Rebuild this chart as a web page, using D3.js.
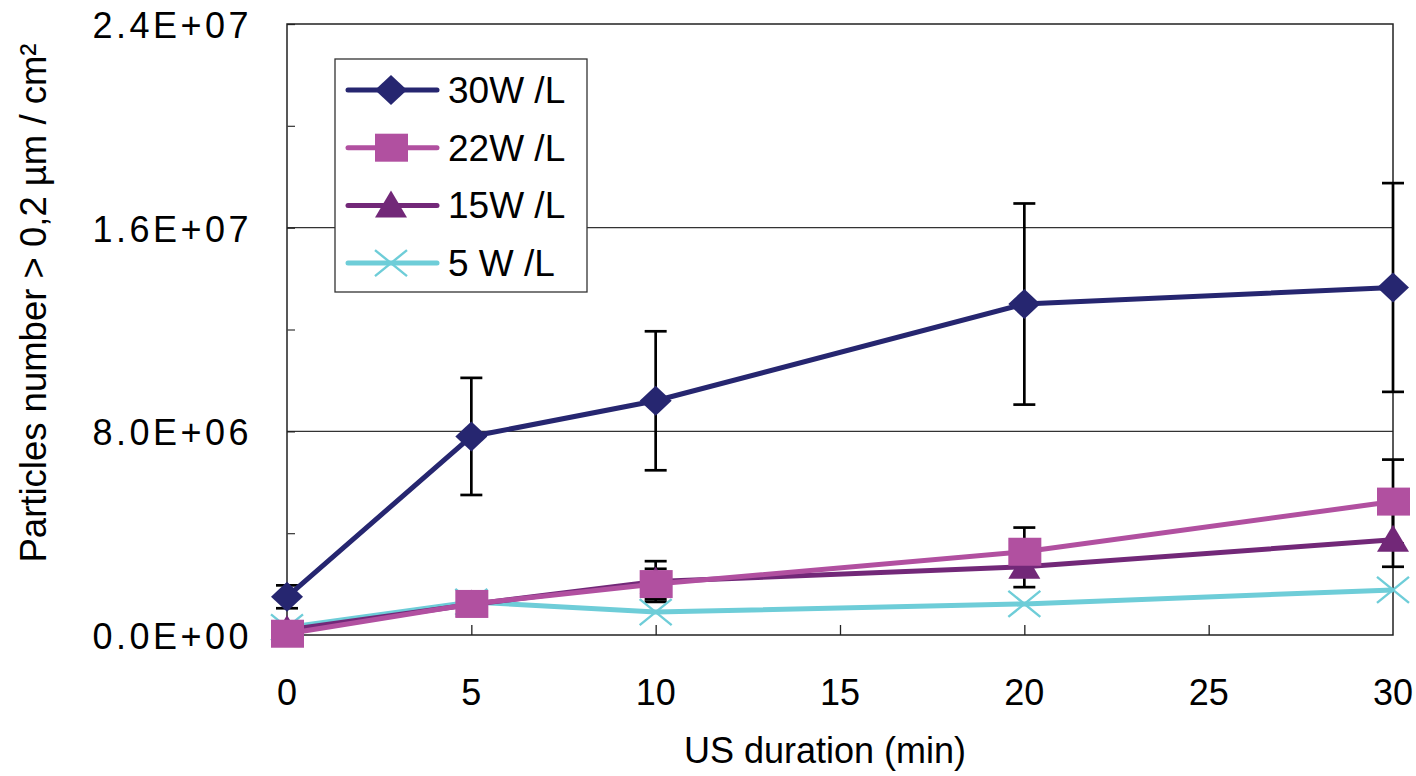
<!DOCTYPE html>
<html><head><meta charset="utf-8">
<script src="https://cdn.jsdelivr.net/npm/d3@7"></script>
<style>body{margin:0;background:#fff}svg{display:block}text{font-family:"Liberation Sans",Arial,sans-serif}</style>
</head><body>
<svg id="c" width="1416" height="776"></svg>
<script>
const xValues = [0, 5, 10, 20, 30];
const seriesNames = ["30W /L", "22W /L", "15W /L", "5 W /L"];
const s30 = [1.5e6, 7.8e6, 9.2e6, 1.3e7, 1.365e7];
const s30err = [0.45e6, 2.3e6, 2.73e6, 3.95e6, 4.1e6];
const s22 = [0.05e6, 1.22e6, 2.0e6, 3.27e6, 5.24e6];
const s22err = [0, 0, 0.6e6, 0.95e6, 1.65e6];
const s15 = [0.2e6, 1.2e6, 2.1e6, 2.68e6, 3.74e6];
const s15err = [0, 0, 0.8e6, 0.8e6, 1.06e6];
const s5 = [0.3e6, 1.3e6, 0.9e6, 1.22e6, 1.77e6];
const yTicks = [0, 8e6, 1.6e7, 2.4e7];
const yTickLabels = ["0.0E+00", "8.0E+06", "1.6E+07", "2.4E+07"];
const yMinorTicks = [4e6, 1.2e7, 2e7];
const xTicks = [0, 5, 10, 15, 20, 25, 30];
const xTitle = "US duration (min)";
const yTitle = "Particles number > 0,2 µm / cm²";

const colors = ["#262670", "#b150a0", "#722878", "#6ecdd8"];
const symbols = ["diamond", "square", "triangle", "cross"];
const series = [
  {name: seriesNames[0], vals: s30, err: s30err},
  {name: seriesNames[1], vals: s22, err: s22err},
  {name: seriesNames[2], vals: s15, err: s15err},
  {name: seriesNames[3], vals: s5, err: null}
];

const L = 287, R = 1393, T = 24, B = 635;
const x = d3.scaleLinear().domain([0, 30]).range([L, R]);
const y = d3.scaleLinear().domain([0, 2.4e7]).range([B, T]);
const svg = d3.select("#c");

// grid
svg.append("g").selectAll("line").data([8e6, 1.6e7]).join("line")
  .attr("x1", L).attr("x2", R).attr("y1", d => y(d)).attr("y2", d => y(d))
  .attr("stroke", "#333").attr("stroke-width", 1.2);

// frame
svg.append("rect").attr("x", L).attr("y", T).attr("width", R - L).attr("height", B - T)
  .attr("fill", "none").attr("stroke", "#222").attr("stroke-width", 1.5);

// y axis
svg.append("g").attr("transform", `translate(${L},0)`).call(d3.axisRight(y).tickValues(yTicks).tickSize(8).tickFormat(""))
  .call(g => g.select(".domain").remove()).selectAll("line").attr("stroke", "#222").attr("stroke-width", 1.3);
svg.append("g").attr("transform", `translate(${L},0)`).call(d3.axisRight(y).tickValues(yMinorTicks).tickSize(8).tickFormat(""))
  .call(g => g.select(".domain").remove()).selectAll("line").attr("stroke", "#444").attr("stroke-width", 1.3);
svg.append("g").selectAll("text").data(yTicks).join("text")
  .attr("x", 252).attr("y", d => y(d) + 14).attr("text-anchor", "end")
  .attr("font-size", 36).attr("letter-spacing", 3.5).attr("fill", "#000")
  .text((d, i) => yTickLabels[i]);

// x axis
svg.append("g").attr("transform", `translate(0,${B})`)
  .call(d3.axisTop(x).tickValues(xTicks.slice(1, -1)).tickSize(10).tickFormat(""))
  .call(g => g.select(".domain").remove()).selectAll("line").attr("stroke", "#222").attr("stroke-width", 1.3);
svg.append("g").selectAll("text").data(xTicks).join("text")
  .attr("x", d => x(d)).attr("y", 705).attr("text-anchor", "middle")
  .attr("font-size", 36).attr("fill", "#000").text(d => d);

svg.append("text").attr("x", 825).attr("y", 763).attr("text-anchor", "middle")
  .attr("font-size", 36).attr("fill", "#000").text(xTitle);
svg.append("text").attr("transform", "translate(46,303) rotate(-90)").attr("text-anchor", "middle")
  .attr("font-size", 36.5).attr("fill", "#000").text(yTitle);

// error bars
series.forEach(s => {
  if (!s.err) return;
  const g = svg.append("g");
  s.vals.forEach((v, i) => {
    const e = s.err[i];
    if (!e) return;
    const cx = x(xValues[i]);
    g.append("line").attr("x1", cx).attr("x2", cx).attr("y1", y(v + e)).attr("y2", y(v - e)).attr("stroke", "#000").attr("stroke-width", 2.7);
    [v + e, v - e].forEach(w => g.append("line").attr("x1", cx - 11).attr("x2", cx + 11).attr("y1", y(w)).attr("y2", y(w)).attr("stroke", "#000").attr("stroke-width", 2.7));
  });
});

function drawMarker(g, type, color, cx, cy) {
  if (type === "diamond") g.append("path").attr("d", `M${cx},${cy-15}L${cx+16},${cy}L${cx},${cy+15}L${cx-16},${cy}Z`).attr("fill", color);
  else if (type === "square") g.append("rect").attr("x", cx - 16).attr("y", cy - 14).attr("width", 33).attr("height", 28).attr("fill", color);
  else if (type === "triangle") g.append("path").attr("d", `M${cx},${cy-15}L${cx+16},${cy+12}L${cx-16},${cy+12}Z`).attr("fill", color);
  else if (type === "cross") g.append("path").attr("d", `M${cx-16},${cy-13}L${cx+16},${cy+13}M${cx-16},${cy+13}L${cx+16},${cy-13}`).attr("stroke", color).attr("stroke-width", 2.4).attr("fill", "none");
}

const line = d3.line().x((d, i) => x(xValues[i])).y(d => y(d));
[3, 2, 1, 0].forEach(k => {
  const s = series[k];
  const g = svg.append("g");
  g.append("path").datum(s.vals).attr("d", line).attr("fill", "none").attr("stroke", colors[k]).attr("stroke-width", 5);
  s.vals.forEach((v, i) => drawMarker(g, symbols[k], colors[k], x(xValues[i]), y(v)));
});

// legend
const lg = svg.append("g");
lg.append("rect").attr("x", 335).attr("y", 59).attr("width", 252).attr("height", 233)
  .attr("fill", "#fff").attr("stroke", "#333").attr("stroke-width", 1.3);
series.forEach((s, k) => {
  const cy = 90 + k * 57.7;
  lg.append("line").attr("x1", 348).attr("x2", 437).attr("y1", cy).attr("y2", cy).attr("stroke", colors[k]).attr("stroke-width", 5).attr("stroke-linecap", "round");
  drawMarker(lg, symbols[k], colors[k], 391, cy);
  lg.append("text").attr("x", 448).attr("y", cy + 13).attr("font-size", 37).attr("fill", "#000").text(s.name);
});
</script>
</body></html>
